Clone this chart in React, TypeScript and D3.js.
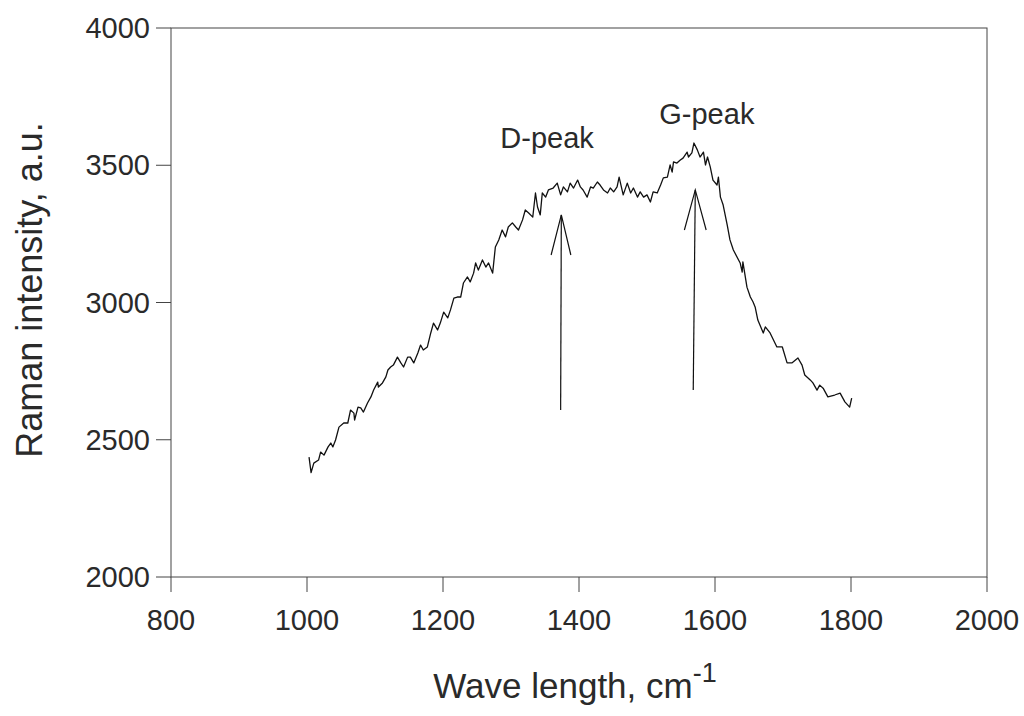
import React from "react";
import * as d3 from "d3";

const WAVENUMBER = [
  1003, 1006, 1010, 1017, 1020, 1025, 1031, 1035, 1038, 1042, 1047, 1054, 1060, 1064, 1069, 1070, 1075, 1079, 1083, 1089,
  1094, 1098, 1104, 1105, 1111, 1116, 1119, 1123, 1127, 1133, 1138, 1142, 1148, 1152, 1157, 1163, 1167, 1171, 1177, 1182,
  1186, 1192, 1196, 1201, 1207, 1211, 1216, 1221, 1226, 1230, 1236, 1240, 1245, 1248, 1252, 1258, 1263, 1267, 1273, 1277,
  1282, 1287, 1292, 1296, 1302, 1307, 1311, 1317, 1321, 1326, 1332, 1336, 1339, 1343, 1346, 1351, 1355, 1362, 1368, 1373,
  1377, 1383, 1387, 1392, 1398, 1402, 1406, 1412, 1417, 1421, 1427, 1431, 1436, 1442, 1446, 1451, 1456, 1459, 1465, 1471,
  1476, 1480, 1486, 1490, 1495, 1500, 1505, 1509, 1515, 1520, 1524, 1530, 1534, 1537, 1539, 1544, 1549, 1553, 1559, 1561,
  1566, 1569, 1574, 1578, 1583, 1586, 1589, 1593, 1597, 1603, 1605, 1608, 1612, 1618, 1622, 1627, 1637, 1640, 1641, 1647,
  1652, 1656, 1659, 1663, 1671, 1674, 1681, 1691, 1699, 1706, 1713, 1722, 1728, 1732, 1740, 1744, 1750, 1754, 1759, 1766,
  1776, 1784, 1791, 1798, 1801,
];
const INTENSITY = [
  2437, 2380, 2415, 2426, 2455, 2444, 2474, 2488, 2474, 2499, 2546, 2561, 2561, 2608, 2597, 2572, 2619, 2616, 2601, 2634,
  2656, 2681, 2710, 2692, 2707, 2729, 2754, 2765, 2772, 2801, 2780, 2765, 2801, 2801, 2780, 2816, 2845, 2827, 2838, 2889,
  2925, 2900, 2925, 2965, 2944, 2973, 3016, 3020, 3020, 3071, 3093, 3075, 3107, 3144, 3118, 3155, 3129, 3144, 3107, 3202,
  3228, 3264, 3239, 3275, 3290, 3275, 3264, 3301, 3337, 3326, 3311, 3399, 3348, 3319, 3399, 3384, 3410, 3417, 3435, 3392,
  3421, 3403, 3435, 3417, 3446, 3421, 3410, 3384, 3421, 3417, 3439, 3428, 3410, 3399, 3417, 3403, 3421, 3457, 3392, 3435,
  3399, 3417, 3384, 3403, 3384, 3392, 3366, 3403, 3399, 3428, 3454, 3457, 3501, 3475, 3512, 3508, 3519, 3526, 3548, 3530,
  3545, 3581, 3556, 3530, 3548, 3501, 3530, 3494, 3446, 3428, 3457, 3384, 3355, 3282, 3228, 3191, 3144, 3111, 3148, 3056,
  3020, 3002, 2984, 2936, 2889, 2911, 2889, 2838, 2838, 2780, 2780, 2798, 2772, 2736, 2718, 2707, 2681, 2699, 2688, 2656,
  2663, 2670, 2638, 2619, 2652,
];

const X_TICKS = [800, 1000, 1200, 1400, 1600, 1800, 2000];
const Y_TICKS = [2000, 2500, 3000, 3500, 4000];

const PEAK_LABELS = ["D-peak", "G-peak"];
const PEAK_LABEL_X = [1353, 1588];
const PEAK_LABEL_Y = [3563, 3650];
const ARROW_BASE_X = [1373, 1568];
const ARROW_BASE_Y = [2608, 2681];
const ARROW_TIP_X = [1374, 1571];
const ARROW_TIP_Y = [3319, 3410];
const ARROW_HEAD_LX = [1359, 1555];
const ARROW_HEAD_RX = [1388, 1587];
const ARROW_HEAD_Y = [3173, 3264];

const FONT = "'Liberation Sans', Arial, sans-serif";
const INK = "#2a2a2a";

export default function App() {
  const x = d3.scaleLinear().domain([800, 2000]).range([171, 987]);
  const y = d3.scaleLinear().domain([2000, 4000]).range([577, 28]);
  const pts = WAVENUMBER.map((w, i) => [w, INTENSITY[i]] as [number, number]);
  const line = d3
    .line<[number, number]>()
    .x((d) => x(d[0]))
    .y((d) => y(d[1]));

  return (
    <div style={{ position: "absolute", left: 0, top: 0 }}>
      <svg width={1024} height={716} style={{ display: "block", background: "#fff" }}>
        <rect x={x(800)} y={y(4000)} width={x(2000) - x(800)} height={y(2000) - y(4000)} fill="none" stroke="#444" strokeWidth={1} />
        {X_TICKS.map((t) => (
          <g key={"x" + t}>
            <line x1={x(t)} x2={x(t)} y1={y(2000)} y2={y(2000) + 15} stroke="#444" strokeWidth={1} />
            <text x={x(t)} y={y(2000) + 53} textAnchor="middle" fontFamily={FONT} fontSize={29} fill={INK}>
              {t}
            </text>
          </g>
        ))}
        {Y_TICKS.map((t) => (
          <g key={"y" + t}>
            <line x1={x(800) - 15} x2={x(800)} y1={y(t)} y2={y(t)} stroke="#444" strokeWidth={1} />
            <text x={x(800) - 21} y={y(t) + 10} textAnchor="end" fontFamily={FONT} fontSize={29} fill={INK}>
              {t}
            </text>
          </g>
        ))}
        <path d={line(pts) || ""} fill="none" stroke="#111" strokeWidth={1.3} strokeLinejoin="round" />
        {ARROW_BASE_X.map((bx, i) => (
          <g key={"a" + i} stroke="#111" strokeWidth={1.2} fill="none">
            <line x1={x(bx)} y1={y(ARROW_BASE_Y[i])} x2={x(ARROW_TIP_X[i])} y2={y(ARROW_TIP_Y[i])} />
            <polyline
              points={`${x(ARROW_HEAD_LX[i])},${y(ARROW_HEAD_Y[i])} ${x(ARROW_TIP_X[i])},${y(ARROW_TIP_Y[i])} ${x(ARROW_HEAD_RX[i])},${y(ARROW_HEAD_Y[i])}`}
            />
          </g>
        ))}
        {PEAK_LABELS.map((l, i) => (
          <text key={l} x={x(PEAK_LABEL_X[i])} y={y(PEAK_LABEL_Y[i])} textAnchor="middle" fontFamily={FONT} fontSize={29} fill={INK}>
            {l}
          </text>
        ))}
        <text x={575} y={698} textAnchor="middle" fontFamily={FONT} fontSize={35} fill={INK}>
          Wave length, cm
          <tspan dy={-16} fontSize={27}>-1</tspan>
        </text>
        <text transform="translate(42,290) rotate(-90)" textAnchor="middle" fontFamily={FONT} fontSize={36} fill={INK}>
          Raman intensity, a.u.
        </text>
      </svg>
    </div>
  );
}
